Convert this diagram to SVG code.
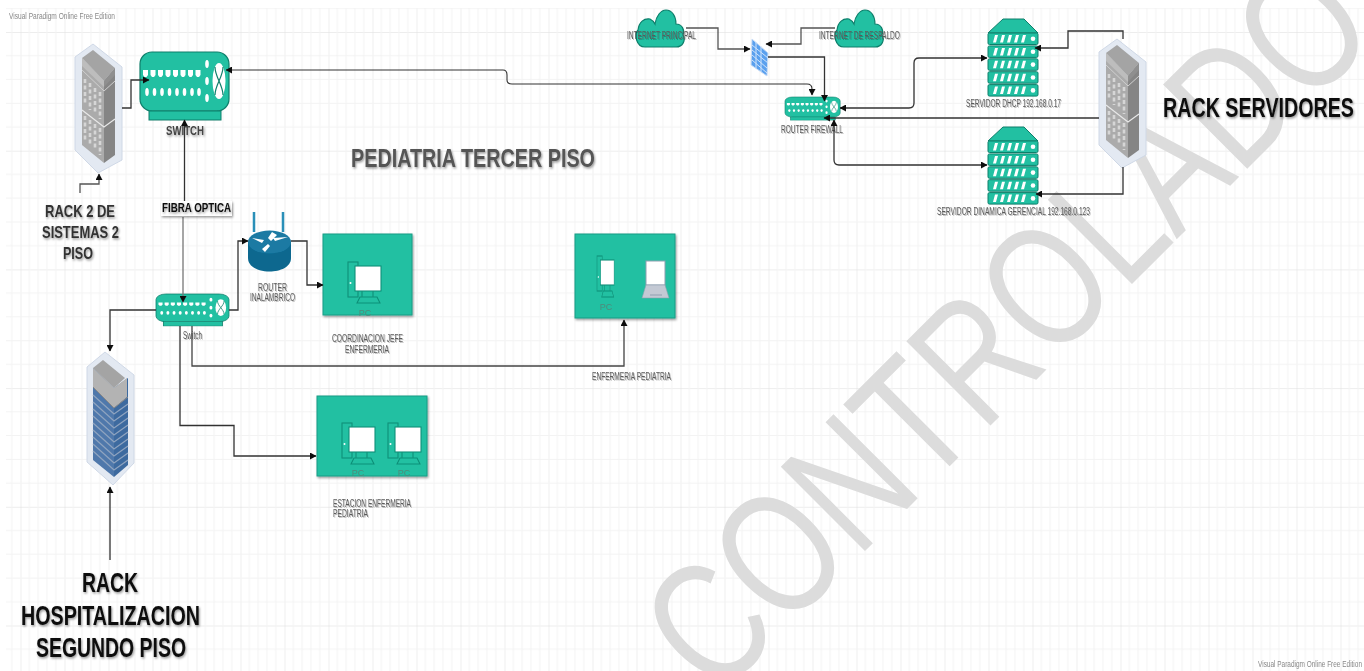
<svg xmlns="http://www.w3.org/2000/svg" width="1364" height="671" viewBox="0 0 1364 671">
<style>
text{font-family:"Liberation Sans",Arial,sans-serif;fill:#5a5a5a;font-size:10px;filter:url(#sh2)}
.b{font-weight:bold;fill:#333;filter:url(#sh)}
.k{font-weight:bold;fill:#111;filter:url(#sh)}
.c{fill:none;stroke:#333;stroke-width:1.3;marker-end:url(#a)}
.n{fill:none;stroke:#333;stroke-width:1.3}
.g{fill:#20c0a2;stroke:#0f7f6b;stroke-width:1.2}
.p{fill:#20c0a2;stroke:#1a9c85;stroke-width:1}
.pl{fill:#4f8a7b;font-size:9px;filter:none}
.vp{fill:#888;font-size:9px;filter:none}
</style>
<defs>
<pattern id="gr" x="20.5" y="32" width="44" height="118.7" patternUnits="userSpaceOnUse">
<path d="M0 0V118.7" stroke="#e0e0e0" stroke-width="1" fill="none"/>
<path d="M0 0H44" stroke="#dcdcdc" stroke-width="1" fill="none"/>
<path d="M8.800 0V118.700M17.600 0V118.700M26.400 0V118.700M35.200 0V118.700M0 23.700H44M0 47.500H44M0 71.200H44M0 95H44" stroke="#f3f3f3" stroke-width="1" fill="none"/>
</pattern>
<marker id="a" markerWidth="7" markerHeight="7" refX="6" refY="3.500" orient="auto" markerUnits="userSpaceOnUse"><path d="M0 0L6.500 3.500L0 7Z" fill="#111"/></marker>
<marker id="s" markerWidth="7" markerHeight="7" refX="0.500" refY="3.500" orient="auto" markerUnits="userSpaceOnUse"><path d="M6.500 0L0 3.500L6.500 7Z" fill="#111"/></marker>
<filter id="sh" x="-10%" y="-30%" width="120%" height="170%"><feDropShadow dx="1" dy="1.500" stdDeviation="1" flood-color="#000" flood-opacity=".4"/></filter>
<filter id="sh2" x="-5%" y="-30%" width="110%" height="170%"><feDropShadow dx="1" dy="1" stdDeviation=".7" flood-color="#000" flood-opacity=".25"/></filter>
<filter id="bl" x="0" y="0" width="100%" height="100%"><feGaussianBlur stdDeviation=".35"/></filter>
<g id="rack">
<path d="M18 0L47 23V116L23 129L0 106V13Z" fill="#e3e9f2" stroke="#cfd8e6"/>
<path d="M7 14V101L29 119V37Z" fill="#ababab"/>
<path d="M29 37V119L40 111V24Z" fill="#858585"/>
<path d="M7 14L18 6L40 24L29 37Z" fill="#a4a4a4"/>
<path d="M7 14L29 37V43L7 22Z" fill="#bdbdbd"/>
<path d="M29 37L40 24V31L29 43Z" fill="#8f8f8f"/>
<path d="M7 26L29 47L40 37" fill="none" stroke="#cfcfcf" stroke-width="1"/>
<path d="M7 66L29 83L40 75" fill="none" stroke="#e8e8e8" stroke-width="1.200"/>
<path d="M10 35V61M15 39V66M20 44V70M25 48V75M10 72V98M15 76V102M20 80V106M25 84V111" stroke="#d6d6d6" stroke-width="2.600" stroke-dasharray="4 2.500" fill="none"/>
</g>
<g id="swi">
<rect x="0" y="0" width="89" height="59" rx="12" fill="#20c0a2" stroke="#0f7f6b" stroke-width="1.200"/>
<rect x="9" y="59" width="72" height="9" fill="#20c0a2" stroke="#0f7f6b" stroke-width="1"/>
<g fill="#fff">
<path d="M3 18h5v5l-1.500 2h-2l-1.500-2zM10.500 18h5v5l-1.500 2h-2l-1.500-2zM18 18h5v5l-1.500 2h-2l-1.500-2zM25.500 18h5v5l-1.500 2h-2l-1.500-2zM33 18h5v5l-1.500 2h-2l-1.500-2zM40.500 18h5v5l-1.500 2h-2l-1.500-2zM48 18h5v5l-1.500 2h-2l-1.500-2zM55.500 18h5v5l-1.500 2h-2l-1.500-2z"/>
<ellipse cx="7" cy="40" rx="1.800" ry="4"/><ellipse cx="14.500" cy="40" rx="1.800" ry="4"/><ellipse cx="22" cy="40" rx="1.800" ry="4"/><ellipse cx="29.500" cy="40" rx="1.800" ry="4"/><ellipse cx="37" cy="40" rx="1.800" ry="4"/><ellipse cx="44.500" cy="40" rx="1.800" ry="4"/><ellipse cx="52" cy="40" rx="1.800" ry="4"/><ellipse cx="59" cy="40" rx="1.800" ry="4"/>
<ellipse cx="67" cy="12" rx="1.800" ry="4"/><ellipse cx="67" cy="29" rx="1.800" ry="4"/><ellipse cx="67" cy="46" rx="1.800" ry="4"/>
<ellipse cx="79" cy="29" rx="6.500" ry="18"/>
</g>
<path d="M75 15C75 25 83 33 83 43M83 15C83 25 75 33 75 43" fill="none" stroke="#0f7f6b" stroke-width="1.200"/>
</g>
<g id="srow"><rect x="0" y="14" width="50" height="11.500" rx="1.500" fill="#20c0a2" stroke="#0f7f6b"/>
<path d="M5 23.500l2-7.500h3l-2 7.500zM12 23.500l2-7.500h3l-2 7.500zM19 23.500l2-7.500h3l-2 7.500zM26 23.500l2-7.500h3l-2 7.500zM33 23.500l2-7.500h3l-2 7.500z" fill="#fff"/><circle cx="45" cy="19.800" r="2.300" fill="#fff"/></g>
<g id="srv">
<path d="M0 14L15 0H36L50 14Z" fill="#20c0a2" stroke="#0f7f6b"/>
<use href="#srow"/><use href="#srow" y="12.900"/><use href="#srow" y="25.800"/><use href="#srow" y="38.700"/><use href="#srow" y="51.600"/>
</g>
<g id="pc">
<rect x="0" y="0" width="10" height="35" fill="none" stroke="#0f8f78" stroke-width="1.100"/>
<rect x="7" y="4" width="26" height="25" fill="#fff" stroke="#0f8f78" stroke-width="1.100"/>
<path d="M14 29V35M25 29V35M9 41L12 35H29L32 41Z" fill="none" stroke="#0f8f78" stroke-width="1.100"/>
<circle cx="2.500" cy="21" r="1" fill="#fff"/>
</g>
<path id="cld" d="M9 37C0 37 -2 24 2 20C3 12 8 8 14 9C16 10 18 12 19 14C20 6 25 0 30 0C36 0 40 6 40 14C46 14 49 20 47 25C50 30 47 37 40 37Z"/>
</defs>
<rect width="1364" height="671" fill="#fff"/>
<g filter="url(#bl)">
<rect x="6" y="8" width="1358" height="663" fill="url(#gr)"/>
<g id="watermark"><text x="716" y="700" transform="rotate(-45 716 700)" textLength="940" lengthAdjust="spacingAndGlyphs" style="font-size:173px;fill:#dcdcdc;filter:none">CONTROLADO</text></g>
<g id="rack2"><use href="#rack" x="75" y="44"/></g>
<g id="rackServ"><use href="#rack" x="1099" y="39"/></g>
<g id="rackHosp">
<path d="M105 352L134 375V463L113 485L87 462V367Z" fill="#e3e9f2" stroke="#cfd8e6"/>
<path d="M93 368V460L114 477V388Z" fill="#4f78ab"/>
<path d="M114 388V477L128 465V378Z" fill="#3e6a9f"/>
<path d="M93 368L103 360L125 378L114 388Z" fill="#a4a4a4"/>
<path d="M93 368L114 388V408L93 387ZM114 388L127 378V397L114 408Z" fill="#b3b3b3"/>
<path d="M93 387L114 408L128 397" fill="none" stroke="#888"/>
<path d="M93 395L114 414L128 404M93 402L114 421L128 411M93 409L114 428L128 418M93 416L114 435L128 425M93 423L114 442L128 432M93 430L114 449L128 439M93 437L114 456L128 446M93 444L114 463L128 453M93 451L114 470L128 460" fill="none" stroke="#8ea3bf" stroke-width="1.300"/>
</g>
<g id="switch1"><use href="#swi" x="140" y="52"/><text class="b" x="166" y="135" textLength="38" lengthAdjust="spacingAndGlyphs" style="font-size:13px;fill:#444">SWITCH</text></g>
<g id="switch2"><use href="#swi" transform="translate(156 294) scale(.82 .47)"/><text x="183" y="339" textLength="19" lengthAdjust="spacingAndGlyphs">Switch</text></g>
<g id="routerFw"><use href="#swi" transform="translate(785 97) scale(.62 .34)"/><text x="781" y="133" textLength="62" lengthAdjust="spacingAndGlyphs">ROUTER FIREWALL</text></g>
<g id="cloud1"><use href="#cld" x="636" y="10" class="g"/><text x="627" y="39" textLength="69" lengthAdjust="spacingAndGlyphs">INTERNET PRINCIPAL</text></g>
<g id="cloud2"><use href="#cld" x="835" y="10" class="g"/><text x="819" y="39" textLength="81" lengthAdjust="spacingAndGlyphs">INTERNET DE RESPALDO</text></g>
<g id="firewall">
<path d="M752 39L768 53L767 76L751 65Z" fill="#5aa0ee" stroke="#c9dcf5"/>
<path d="M752 45L768 58M752 50L768 63M752 55L767 68M752 60L767 73M756 42V68M761 46V72" stroke="#cfe3fb" stroke-width="1" fill="none"/>
</g>
<g id="srv1"><use href="#srv" x="988" y="19"/><text x="966" y="107" textLength="95" lengthAdjust="spacingAndGlyphs">SERVIDOR DHCP 192.168.0.17</text></g>
<g id="srv2"><use href="#srv" x="988" y="127"/><text x="937" y="215" textLength="153" lengthAdjust="spacingAndGlyphs">SERVIDOR DINAMICA GERENCIAL 192.168.0.123</text></g>
<g id="wrouter">
<path d="M254 212V232M283 212V232" stroke="#2a8fb8" stroke-width="2.500"/>
<path d="M248 242V258C248 276 291 276 291 258V242Z" fill="#08678f"/>
<ellipse cx="269.500" cy="242" rx="21.500" ry="11.500" fill="#1c7aa3"/>
<path d="M252 238L264 240L262 243ZM288 237L275 241L273 238ZM262 249L268 244L270 246L265 252ZM272 232L277 235L271 241L268 238Z" fill="#fff"/>
<text x="258" y="291" textLength="29" lengthAdjust="spacingAndGlyphs">ROUTER</text><text x="250" y="301" textLength="45" lengthAdjust="spacingAndGlyphs">INALAMBRICO</text>
</g>
<g id="pc1"><rect class="p" x="323" y="234" width="89" height="81" style="filter:url(#sh)"/><use href="#pc" x="348" y="262"/><text class="pl" x="365" y="316" text-anchor="middle">PC</text></g>
<g id="pc2"><rect class="p" x="575" y="234" width="100" height="84" style="filter:url(#sh)"/><use href="#pc" transform="translate(597 256) scale(.52 1)"/><text class="pl" x="606" y="310" text-anchor="middle">PC</text>
<rect x="646" y="261" width="19" height="24" fill="#fff" stroke="#8f9fb0" stroke-width="1"/><path d="M646 285H665L669 298H642Z" fill="#c3c9d4" stroke="#8f9fb0" stroke-width=".6"/><path d="M650 295H662" stroke="#8f9fb0"/></g>
<g id="pc3"><rect class="p" x="317" y="396" width="110" height="80" style="filter:url(#sh)"/><use href="#pc" x="342" y="423"/><use href="#pc" x="388" y="423"/><text class="pl" x="358" y="476" text-anchor="middle">PC</text><text class="pl" x="404" y="476" text-anchor="middle">PC</text></g>
<g id="connectors">
<path class="c" d="M122 108H131V80H149"/>
<path class="c" d="M184.500 203V120"/>
<path class="c" d="M183 217V302" style="stroke:#777"/>
<path class="n" d="M226 70H503Q507 70 507 75V80Q507 84 512 84H807Q812 84 812 89V95" marker-start="url(#s)" marker-end="url(#a)" style="stroke-width:1.100"/>
<path class="c" d="M768 57H824.500V101"/>
<path class="c" d="M686 28H718V49H750" style="stroke:#555"/>
<path class="c" d="M835 28H801V44H766" style="stroke:#555"/>
<path class="n" d="M840 108H909Q914 108 914 103V63Q914 58 919 58H987" marker-start="url(#s)" marker-end="url(#a)"/>
<path class="c" d="M1099 118H824"/>
<path class="c" d="M1123 39V31H1068V48H1035"/>
<path class="c" d="M1123 167V194H1036"/>
<path class="n" d="M987 165H839Q834 165 834 160V120" marker-start="url(#s)" marker-end="url(#a)"/>
<path class="c" d="M110 560V487"/>
<path class="c" d="M80 193V184H99V174" style="stroke:#555"/>
<path class="c" d="M156 310H110V351"/>
<path class="c" d="M229 310H238V241H248"/>
<path class="c" d="M291 241H307V285H323"/>
<path class="c" d="M192 326V366H624V320" style="stroke:#444"/>
<path class="c" d="M180 326V425.500H234V456H316"/>
</g>
<g id="labels">
<text class="vp" x="9" y="19" textLength="106" lengthAdjust="spacingAndGlyphs">Visual Paradigm Online Free Edition</text>
<text class="vp" x="1258" y="667" textLength="104" lengthAdjust="spacingAndGlyphs">Visual Paradigm Online Free Edition</text>
<text class="b" x="351" y="167" textLength="244" lengthAdjust="spacingAndGlyphs" style="font-size:25px;fill:#555">PEDIATRIA TERCER PISO</text>
<rect x="161" y="201" width="71" height="15" fill="#fff" style="filter:url(#sh)"/>
<text class="k" x="162" y="212" textLength="69" lengthAdjust="spacingAndGlyphs" style="font-size:12px">FIBRA OPTICA</text>
<text class="b" x="45" y="217" textLength="70" lengthAdjust="spacingAndGlyphs" style="font-size:17px">RACK 2 DE</text>
<text class="b" x="42" y="238" textLength="77" lengthAdjust="spacingAndGlyphs" style="font-size:17px">SISTEMAS 2</text>
<text class="b" x="63" y="259" textLength="30" lengthAdjust="spacingAndGlyphs" style="font-size:17px">PISO</text>
<text class="k" x="1163" y="117" textLength="191" lengthAdjust="spacingAndGlyphs" style="font-size:27px">RACK SERVIDORES</text>
<text class="k" x="82" y="592" textLength="56" lengthAdjust="spacingAndGlyphs" style="font-size:27px">RACK</text>
<text class="k" x="21" y="625" textLength="179" lengthAdjust="spacingAndGlyphs" style="font-size:27px">HOSPITALIZACION</text>
<text class="k" x="36" y="657" textLength="150" lengthAdjust="spacingAndGlyphs" style="font-size:27px">SEGUNDO PISO</text>
<text x="332" y="342" textLength="71" lengthAdjust="spacingAndGlyphs">COORDINACION JEFE</text>
<text x="345" y="353" textLength="44" lengthAdjust="spacingAndGlyphs">ENFERMERIA</text>
<text x="592" y="380" textLength="79" lengthAdjust="spacingAndGlyphs">ENFERMERIA PEDIATRIA</text>
<text x="333" y="507" textLength="78" lengthAdjust="spacingAndGlyphs">ESTACION ENFERMERIA</text>
<text x="333" y="517" textLength="35" lengthAdjust="spacingAndGlyphs">PEDIATRIA</text>
</g>
</g>
</svg>
